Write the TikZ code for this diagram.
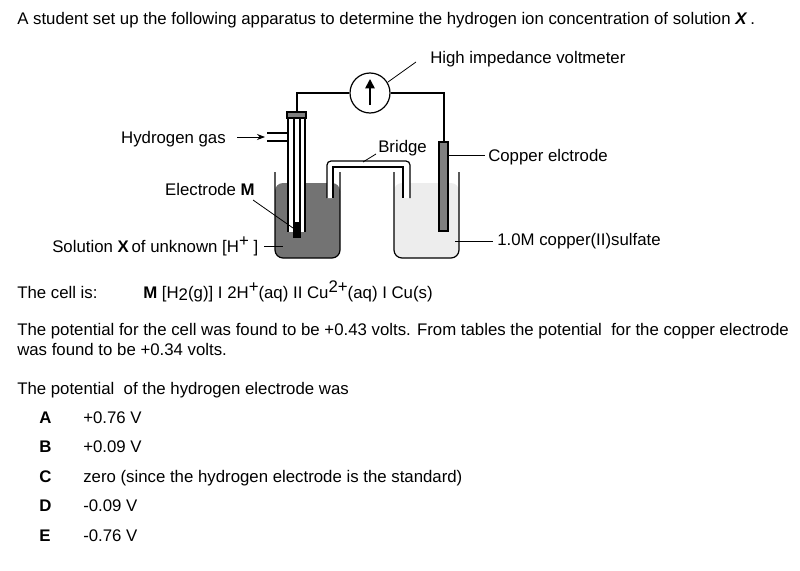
\documentclass[tikz,border=0pt]{standalone}
\usepackage{fontspec}
\setmainfont{Liberation Sans}
\usetikzlibrary{arrows.meta}
\begin{document}
\begin{tikzpicture}[x=0.75pt,y=-0.75pt,
  txt/.style={font=\fontsize{12.6pt}{14pt}\selectfont,inner sep=0pt},
  lab/.style={txt,anchor=base west},
  labr/.style={txt,anchor=base east},
  ln/.style={line width=0.6pt},
  glass/.style={line width=0.9pt}]
\useasboundingbox (0,0) rectangle (800,571);
\node[lab] (title) at (17,24) {A student set up the following apparatus to determine the hydrogen ion concentration of solution \textbf{\textit{X}}\,.};
% beakers
\fill[black!55,rounded corners=6] (275,183) -- (275,258) -- (340,258) -- (340,183) -- cycle;
\fill[black!7,rounded corners=6] (394,183) -- (394,258) -- (459,258) -- (459,183) -- cycle;
\draw[glass,rounded corners=6] (275,172) -- (275,258) -- (340,258) -- (340,172);
\draw[glass,rounded corners=6] (394,172) -- (394,258) -- (459,258) -- (459,172);
% bridge
\fill[white] (327,198) -- (327,161) -- (410,161) -- (410,198) -- (403,198) -- (403,167) -- (333,167) -- (333,198) -- cycle;
\draw[glass,rounded corners=3] (327,198) -- (327,161) -- (410,161) -- (410,198);
\draw[glass] (333,198) -- (333,167) -- (403,167) -- (403,198);
% hydrogen tube
\fill[white] (288,116) rectangle (305,232);
\draw[glass] (288,116) -- (288,232); \draw[glass] (305,116) -- (305,232);
\draw[glass] (294,118) -- (294,222); \draw[glass] (300,118) -- (300,222);
\draw[glass,fill=gray] (287,112) rectangle (306,118);
\draw[glass] (267,133) -- (288,133); \draw[glass] (267,141) -- (288,141);
\fill[black] (293,222) rectangle (301,238);
% copper electrode
\draw[glass,fill=gray] (439,142) rectangle (448,231);
% voltmeter
\node[draw,circle,line width=0.9pt,minimum size=30pt,inner sep=0pt] (V) at (370,93) {};
\draw[-{Triangle[length=7pt,width=7pt]},line width=1.3pt] (370,105) -- (370,79);
\coordinate (lw) at (297,112);
\coordinate (rw) at (444,142);
\draw[glass] (lw) |- (V.west);
\draw[glass] (rw) |- (V.east);
% labels
\node[lab] (hiv) at (430,63) {High impedance voltmeter};
\draw[ln] (416,62) -- (388,82);
\node[labr] (hg) at (226,143) {Hydrogen gas};
\draw[-{Stealth[length=6pt]},ln] (237,137) -- (265,137);
\node[lab] (br) at (378,152) {Bridge};
\draw[ln] (376,154) -- (363,162);
\node[lab] (ce) at (488,161) {Copper elctrode};
\draw[ln] (448,155) -- (485,155);
\node[labr] (em) at (255,195) {Electrode \textbf{M}};
\draw[ln] (253,200) -- (293,228);
\node[lab] (sx) at (52,252) {Solution \textbf{X}\,of unknown [H\raisebox{4pt}{+} ]};
\draw[ln] (264,246) -- (283,246);
\node[lab] (cs) at (497,245) {1.0M copper(II)sulfate};
\draw[ln] (455,241) -- (493,241);
% text
\node[lab] (c1) at (17,298) {The cell is:};
\node[lab] (c2) at (143,298) {\textbf{M} [H\raisebox{-2pt}{2}(g)] I 2H\raisebox{4pt}{+}(aq) II Cu\raisebox{4pt}{2+}(aq) I Cu(s)};
\node[lab] (p1) at (17,335) {The potential for the cell was found to be +0.43 volts. From tables the potential\ \ for the copper electrode};
\node[lab] (p2) at (17,355) {was found to be +0.34 volts.};
\node[lab] (q) at (17,394) {The potential\ \ of the hydrogen electrode was};
\foreach \l/\t/\y [count=\i] in {A/+0.76 V/423,B/+0.09 V/452,C/zero (since the hydrogen electrode is the standard)/482,D/-0.09 V/511,E/-0.76 V/541}{
  \node[lab] (L\i) at (39,\y) {\textbf{\l}};
  \node[lab] (T\i) at (83,\y) {\t};
}
\end{tikzpicture}
\end{document}
